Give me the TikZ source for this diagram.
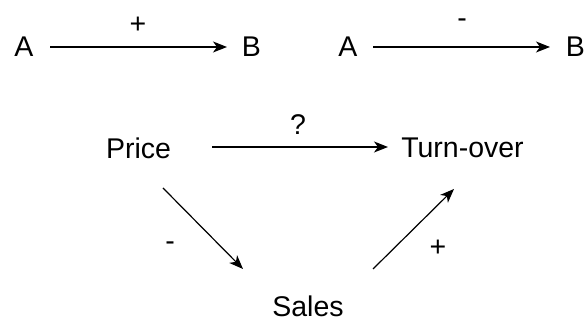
\documentclass[tikz,border=0pt]{standalone}
\usepackage{fontspec}
\setmainfont{Liberation Sans}
\usetikzlibrary{arrows.meta}
\begin{document}
\begin{tikzpicture}[x=1pt,y=1pt,
  lbl/.style={inner sep=0pt,font=\fontsize{28.5}{32}\selectfont},
  conn/.style={line width=1.2pt,-{Stealth[length=14pt,width=11pt,inset=4pt]}}]
\useasboundingbox (0,0) rectangle (587,320);
% top-left
\node[lbl] (a1) at (24,273) {A};
\node[lbl] (b1) at (251.5,273) {B};
\node[lbl] (p1) at (138,295) {+};
\draw[conn] ([xshift=26pt]a1.center) -- ([xshift=-24.5pt]b1.center);
% top-right
\node[lbl] (a2) at (348,273) {A};
\node[lbl] (b2) at (575.5,273) {B};
\node[lbl] (m1) at (462,297) {-};
\draw[conn] ([xshift=25pt]a2.center) -- ([xshift=-25.5pt]b2.center);
% triangle
\node[lbl] (price) at (138.5,172) {Price};
\node[lbl] (turn) at (462.5,172) {Turn-over};
\node[lbl] (sales) at (308,14) {Sales};
\node[lbl] (q) at (298,195) {?};
\node[lbl] (m2) at (170,74) {-};
\node[lbl] (p2) at (438,72) {+};
\draw[conn] ([xshift=73.5pt,yshift=1pt]price.center) -- ([xshift=-74.5pt,yshift=1pt]turn.center);
\draw[conn] ([xshift=24.5pt,yshift=-40pt]price.center) -- ([xshift=-65pt,yshift=37pt]sales.center);
\draw[conn] ([xshift=65pt,yshift=37pt]sales.center) -- ([xshift=-8.5pt,yshift=-41pt]turn.center);
\end{tikzpicture}
\end{document}
